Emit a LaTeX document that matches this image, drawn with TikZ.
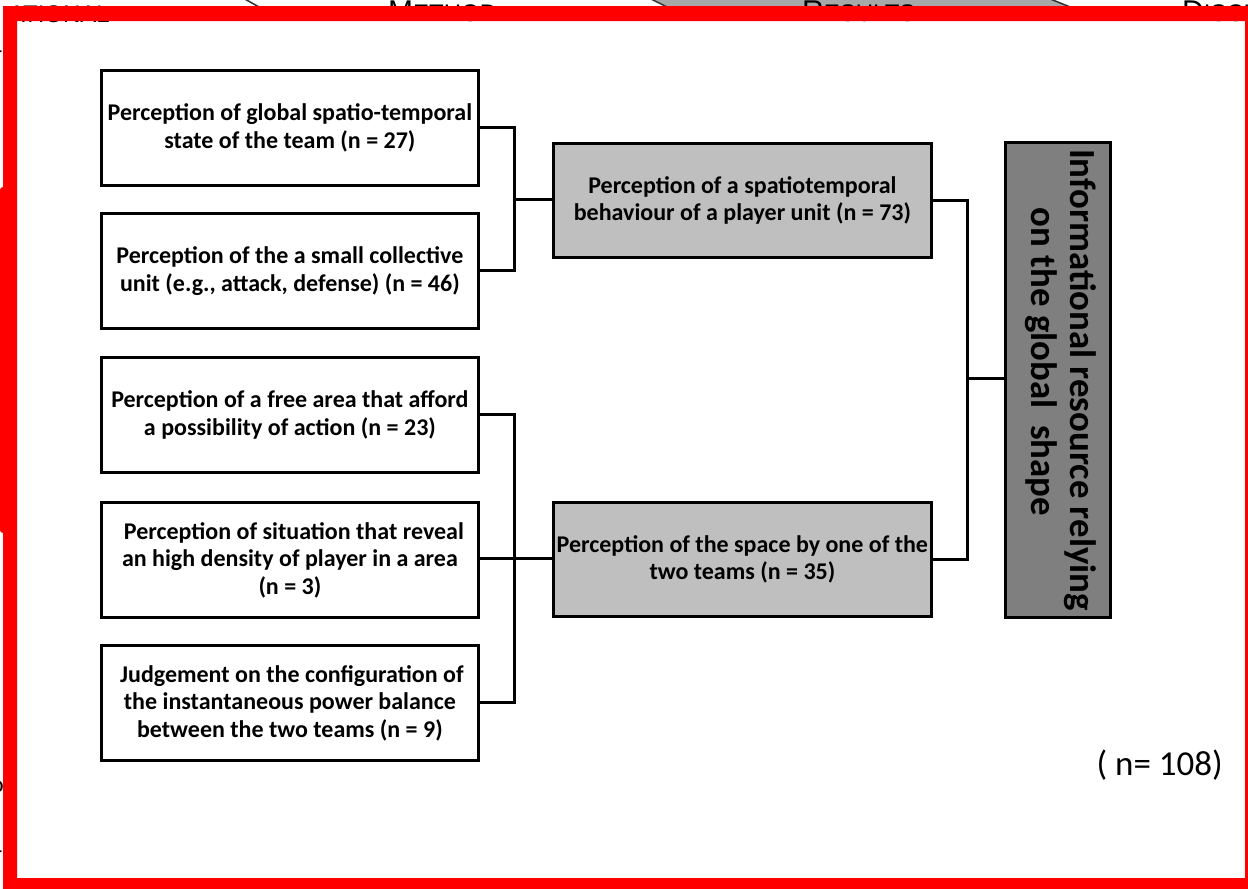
\documentclass[tikz,border=0pt]{standalone}
\usepackage{fontspec}
\setmainfont{Carlito}
\newfontfamily\hdrfont{Liberation Sans}
\definecolor{midgray}{HTML}{BFBFBF}
\definecolor{darkgray}{HTML}{7F7F7F}
\definecolor{tabgray}{HTML}{A8A8A8}
\begin{document}
\begin{tikzpicture}[x=1pt,y=-1pt,
  leafbox/.style={draw=black, line width=2.8pt, fill=white, minimum width=377pt,
    minimum height=115pt, anchor=north west, align=center, inner sep=0pt,
    font=\fontsize{24}{27.5}\selectfont\bfseries},
  midbox/.style={leafbox, fill=midgray, minimum width=378pt, minimum height=114pt},
  bigbox/.style={draw=black, line width=2.8pt, fill=darkgray, minimum width=105pt,
    minimum height=475pt, anchor=north west, inner sep=0pt},
  bigtext/.style={rotate=-90, align=center, inner sep=0pt,
    font=\fontsize{36.8}{39}\selectfont\bfseries},
  connline/.style={black, line width=3pt, line cap=rect},
  hdr/.style={anchor=base west, inner sep=0pt, font=\hdrfont\fontsize{24}{24}\selectfont},
  frag/.style={anchor=west, inner sep=0pt, font=\fontsize{24}{24}\selectfont}
]
\useasboundingbox (0,0) rectangle (1248,889);
\fill[white] (0,0) rectangle (1248,889);

% cropped page header (mostly hidden by the red frame)
\draw[line width=1.5pt, black!80] (243,-2) -- (259,7);
\filldraw[fill=tabgray, draw=black!80, line width=1.5pt]
  (645,-4) -- (1043,-4) -- (1075,9) -- (671,9) -- cycle;
\node[hdr, anchor=base east] (h1) at (110,22) {ATIONAL};
\node[hdr] (h2) at (388,21.5) {{\fontsize{30}{30}\selectfont M}ETHOD};
\node[hdr] (h3) at (802,21.5) {{\fontsize{30}{30}\selectfont R}ESULTS};
\node[hdr] (h4) at (1182,21.5) {{\fontsize{30}{30}\selectfont D}ISCUSSION};
\node[frag] (f1) at (-5,55) {-};
\node[frag] (f2) at (-9,787) {o};
\node[frag] (f3) at (-5,855) {-};

% red frame
\fill[red, even odd rule] (3,6) rectangle (1248,889) (17,21) rectangle (1245,878);
\fill[red, rounded corners=3pt] (0,187) rectangle (12,533);

% junctions
\coordinate (j1) at (514,199);
\coordinate (j2) at (514,558);
\coordinate (j3) at (967,378);

% left boxes
\node[leafbox] (b1) at (100,69) {Perception of global spatio-temporal\\state of the team (n = 27)};
\node[leafbox] (b2) at (100,212) {Perception of the a small collective\\unit (e.g., attack, defense) (n = 46)};
\node[leafbox] (b3) at (100,356) {Perception of a free area that afford\\a possibility of action (n = 23)};
\node[leafbox] (b4) at (100,501) {\hspace*{8pt}Perception of situation that reveal\\an high density of player in a area\\(n = 3)};
\node[leafbox] (b5) at (100,644) {\hspace*{4pt}Judgement on the configuration of\\the instantaneous power balance\\between the two teams (n = 9)};

% middle boxes
\node[midbox] (m1) at (552,142) {Perception of a spatiotemporal\\behaviour of a player unit (n = 73)};
\node[midbox] (m2) at (552,501) {Perception of the space by one of the\\two teams (n = 35)};

% big box
\node[bigbox] (big) at (1004,141) {};
\node[bigtext] (bigt) at ([xshift=3pt]big.center) {Informational resource relying\\on the global~~shape\hspace*{36pt}};

% total
\node[anchor=east, inner sep=0pt, font=\fontsize{35}{35}\selectfont] (tot) at (1223,765) {( n= 108)};

% connectors
\draw[connline] (b1.east) -| (j1) |- (b2.east);
\draw[connline] (j1) -- (j1 -| m1.west);
\draw[connline] (b3.east) -| (j2) |- (b5.east);
\draw[connline] (b4.east |- j2) -- (j2 -| m2.west);
\draw[connline] (m1.east) -| (j3) |- (m2.east);
\draw[connline] (j3) -- (j3 -| big.west);
\end{tikzpicture}
\end{document}
